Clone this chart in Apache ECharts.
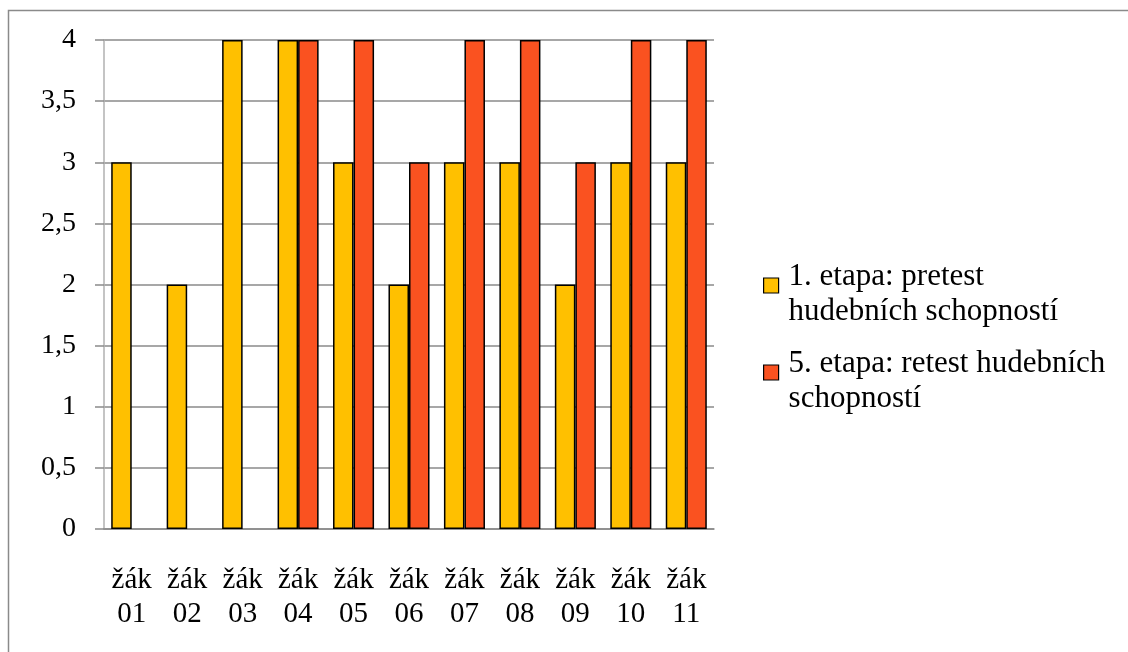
<!DOCTYPE html>
<html><head><meta charset="utf-8">
<script src="https://cdn.jsdelivr.net/npm/echarts@6/dist/echarts.min.js"></script>
<style>html,body{margin:0;padding:0;background:#fff}#c{width:1128px;height:652px}</style>
</head><body><div id="c"></div>
<script>
const categories = ['žák\n01','žák\n02','žák\n03','žák\n04','žák\n05','žák\n06','žák\n07','žák\n08','žák\n09','žák\n10','žák\n11'];
const seriesNames = ['1. etapa: pretest hudebních schopností', '5. etapa: retest hudebních schopností'];
const legendLines = {
  '1. etapa: pretest hudebních schopností': ['1. etapa: pretest', 'hudebních schopností'],
  '5. etapa: retest hudebních schopností': ['5. etapa: retest hudebních', 'schopností']
};
const pretest = [3, 2, 4, 4, 3, 2, 3, 3, 2, 3, 3];
const retest = [null, null, null, 4, 4, 3, 4, 4, 3, 4, 4];
const yTicks = [0, 0.5, 1, 1.5, 2, 2.5, 3, 3.5, 4];

const font = '"Liberation Serif", "Times New Roman", serif';
const chart = echarts.init(document.getElementById('c'));
chart.setOption({
  animation: false,
  textStyle: {fontFamily: font},
  graphic: [{type:'rect', shape:{x:8.5, y:10.5, width:1130, height:660}, style:{fill:'none', stroke:'#8a8a8a', lineWidth:1.5}, silent:true}],
  grid: {left: 104, right: 414, top: 40, bottom: 123},
  legend: {
    orient: 'vertical', left: 763, top: 250, padding: 0, itemWidth: 15, itemHeight: 15, itemGap: 10,
    icon: 'rect',
    formatter: name => '{s| }\n' + legendLines[name].map(l => '{t|' + l + '}').join('\n'),
    textStyle: {fontFamily: font, fontSize: 31, color: '#000',
      rich: {
        s: {fontSize: 1, lineHeight: 17},
        t: {fontFamily: font, fontSize: 31, lineHeight: 35, color: '#000', padding: [0, 0, 0, 5]}
      }
    },
    itemStyle: {borderColor: '#000', borderWidth: 1.2},
    data: seriesNames
  },
  xAxis: {
    type: 'category', data: categories,
    axisLine: {lineStyle: {color: '#8a8a8a', width: 1.5}},
    axisTick: {length: 9, lineStyle: {color: '#8a8a8a', width: 1.5}},
    axisLabel: {fontFamily: font, fontSize: 29, color: '#000', lineHeight: 34, margin: 34, interval: 0}
  },
  yAxis: {
    type: 'value', min: 0, max: 4, interval: 0.5,
    axisLine: {show: true, lineStyle: {color: '#b0b0b0', width: 1.5}},
    axisTick: {show: true, inside: false, length: 9, lineStyle: {color: '#8a8a8a', width: 1.5}},
    splitLine: {lineStyle: {color: '#8a8a8a', width: 1.5}},
    axisLabel: {fontFamily: font, fontSize: 28, color: '#000', margin: 28,
      formatter: v => yTicks.includes(v) ? String(v).replace('.', ',') : ''}
  },
  series: [
    {name: seriesNames[0], type: 'bar', data: pretest, barGap: '0%', barCategoryGap: '26%',
      itemStyle: {color: '#FFC000', borderColor: '#000', borderWidth: 1.5}},
    {name: seriesNames[1], type: 'bar', data: retest, barGap: '0%', barCategoryGap: '26%',
      itemStyle: {color: '#FA5220', borderColor: '#000', borderWidth: 1.5}}
  ]
});
</script></body></html>
